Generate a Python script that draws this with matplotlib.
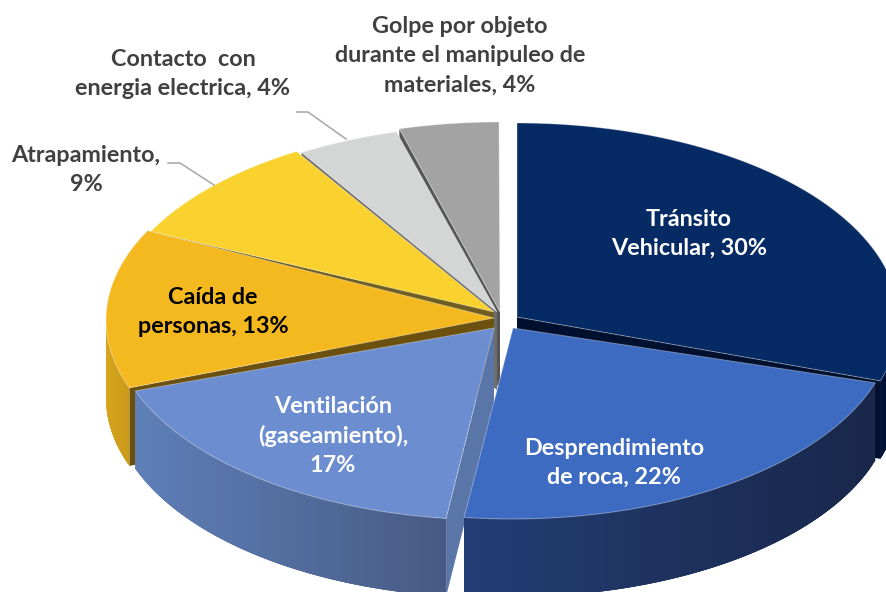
import numpy as np
import matplotlib
matplotlib.use('Agg')
import matplotlib.pyplot as plt
from matplotlib.collections import PolyCollection
from matplotlib.colors import to_rgb

# shares (labels show them rounded)
values = [30.0, 22.0, 17.4, 13.1, 9.0, 4.3, 4.2]
top_colors = ['#062A63', '#3D6BC2', '#6C8ED0', '#F4B91F', '#F9D230', '#D4D6D6', '#A3A3A3']
wall_left = ['#03143A', '#233D74', '#5F7FB8', '#D6A41B', '#D6B02A', '#B5B7B7', '#8A8A8A']
wall_right = ['#02102C', '#18274A', '#475A84', '#C9991A', '#D6B02A', '#B5B7B7', '#8A8A8A']
cut_colors = ['#01102E', None, '#5A75A8', '#6B500F', '#6F5E20', '#6E6E6E', '#555555']
cut_side = ['end', None, 'start', 'start', 'start', 'start', 'start']

# where each exploded slice sits, in figure pixels
rim_centers = [(517, 320), (512, 322), (494, 323), (488, 320), (491, 321), (496, 322), (499, 319)]
apexes = [(517, 317), (513, 328), (494, 328), (494, 318), (494, 312), (497, 312), (500, 312)]
rx, ry = 382, 197
depth = 78

draw_order = [6, 5, 4, 3, 0, 2, 1]


def rim(i, ang):
    cx, cy = rim_centers[i]
    a = np.radians(ang)
    return np.column_stack([cx + rx * np.sin(a), cy - ry * np.cos(a)])


plt.rcParams['font.family'] = ['Lato', 'DejaVu Sans']
fig = plt.figure(figsize=(8.87, 5.92), dpi=100)
ax = fig.add_axes([0, 0, 1, 1])
ax.set_xlim(0, 887)
ax.set_ylim(592, 0)
ax.axis('off')

edges = np.concatenate([[0], np.cumsum(values)]) / sum(values) * 360

for z, i in enumerate(draw_order):
    a0, a1 = edges[i], edges[i + 1]
    apex = np.array(apexes[i], dtype=float)
    down = np.array([0, depth])

    # flat cut face
    if cut_side[i]:
        ang = a0 if cut_side[i] == 'start' else a1
        p = rim(i, [ang])[0]
        ax.fill(*zip(apex, apex + down, p + down, p), color=cut_colors[i], lw=0, zorder=z * 10 + 1)

    # curved outer wall, only the part facing us
    w0, w1 = max(a0, 90), min(a1, 270)
    if w1 > w0:
        angs = np.linspace(w0, w1, 60)
        pts = rim(i, angs)
        c0, c1 = np.array(to_rgb(wall_left[i])), np.array(to_rgb(wall_right[i]))
        x0, x1 = pts[:, 0].min(), pts[:, 0].max()
        quads, cols = [], []
        # each strip runs on under the next one so no seams show
        for k in range(len(pts) - 1):
            end = pts[min(k + 3, len(pts) - 1)]
            quads.append([pts[k], end, end + down, pts[k] + down])
            t = ((pts[k, 0] + pts[k + 1, 0]) / 2 - x0) / (x1 - x0)
            cols.append(c0 + (c1 - c0) * t)
        ax.add_collection(PolyCollection(quads, facecolors=cols, edgecolors='none',
                                         zorder=z * 10 + 2))

    # top face
    arc = rim(i, np.linspace(a0, a1, 120))
    top = np.vstack([apex, arc])
    ax.fill(top[:, 0], top[:, 1], facecolor=top_colors[i], edgecolor=(1, 1, 1, 0.35),
            lw=0.7, zorder=z * 10 + 3)

# leader lines
ax.plot([297, 308, 346], [112, 112, 139], color='#A6A6A6', lw=1.1, zorder=100)
ax.plot([168, 180, 214], [163, 163, 185], color='#A6A6A6', lw=1.1, zorder=100)

labels = ['Tránsito\nVehicular, 30%', 'Desprendimiento\nde roca, 22%',
          'Ventilación\n(gaseamiento),\n17%', 'Caída de\npersonas, 13%',
          'Atrapamiento,\n9%', 'Contacto  con\nenergia electrica, 4%',
          'Golpe por objeto\ndurante el manipuleo de\nmateriales, 4%']
label_pos = [(689, 234), (614, 463), (333, 436), (213, 312), (86, 170), (183, 74), (460, 56)]
label_colors = ['white', 'white', 'white', 'black', '#404040', '#404040', '#404040']

for txt, (x, y), c in zip(labels, label_pos, label_colors):
    ax.text(x, y, txt, color=c, ha='center', va='center', fontsize=16.8,
            fontweight='bold', linespacing=1.48, zorder=200)

fig.savefig('out.png', dpi=100)
